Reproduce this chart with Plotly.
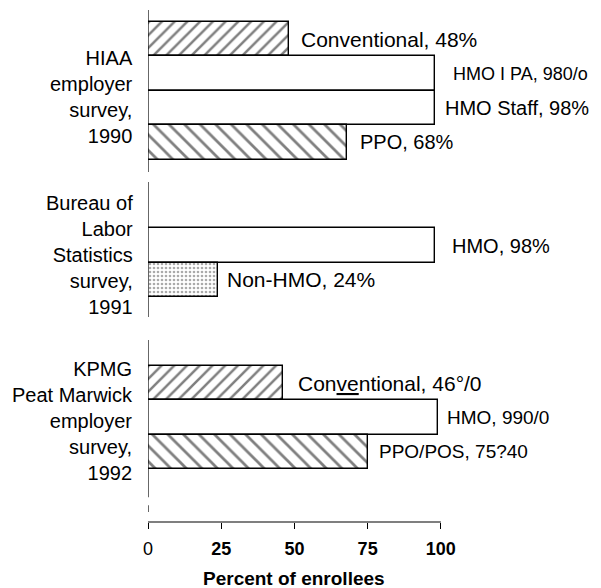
import plotly.graph_objects as go

# ---- data ----
group_labels = [
    "HIAA<br>employer<br>survey,<br>1990",
    "Bureau of<br>Labor<br>Statistics<br>survey,<br>1991",
    "KPMG<br>Peat Marwick<br>employer<br>survey,<br>1992",
]
bar_labels = [
    "Conventional, 48%",
    "HMO I PA, 980/o",
    "HMO Staff, 98%",
    "PPO, 68%",
    "HMO, 98%",
    "Non-HMO, 24%",
    "Con<u>ve</u>ntional, 46°/0",
    "HMO, 990/0",
    "PPO/POS, 75?40",
]
values = [48, 98, 98, 68, 98, 24, 46, 99, 75]
bar_group = [0, 0, 0, 0, 1, 1, 2, 2, 2]
bar_kind = ["conventional", "hmo", "hmo", "ppo", "hmo", "nonhmo",
            "conventional", "hmo", "ppo"]
x_tick_values = [0, 25, 50, 75, 100]
x_tick_text = ["0", "<b>25</b>", "<b>50</b>", "<b>75</b>", "<b>100</b>"]
axis_title = "Percent of enrollees"

# ---- layout helpers (styles / positions) ----
FONT = "Liberation Sans, Arial, Helvetica, sans-serif"
GAP_SLOTS = 2
styles = {
    "conventional": dict(shape="/", size=9, solidity=0.28, fg="black"),
    "ppo": dict(shape="\\", size=11, solidity=0.25, fg="black"),
    "hmo": dict(shape="", size=8, solidity=0.2, fg="black"),
    "nonhmo": dict(shape=".", size=4, solidity=0.35, fg="#555555"),
}
label_dx = [10, 16, 8, 11, 15, 7, 13, 7, 9]
label_size = [21, 18, 20, 20, 20, 21, 21, 19, 19]
group_dy = [-6, 8, -4]

# positions: consecutive slots within a group, empty slots between groups
pos = []
cur = 0
prev = bar_group[0]
for g in bar_group:
    if g != prev:
        cur += GAP_SLOTS
        prev = g
    pos.append(cur)
    cur += 1

fig = go.Figure()
fig.add_trace(go.Bar(
    x=values, y=pos, orientation="h", width=1,
    marker=dict(
        color="white",
        line=dict(color="black", width=1.4),
        pattern=dict(
            shape=[styles[k]["shape"] for k in bar_kind],
            size=[styles[k]["size"] for k in bar_kind],
            solidity=[styles[k]["solidity"] for k in bar_kind],
            fgcolor=[styles[k]["fg"] for k in bar_kind],
            bgcolor="white",
            fillmode="overlay",
        ),
    ),
    hoverinfo="skip", showlegend=False,
))

annotations = []
for i, (v, p, t) in enumerate(zip(values, pos, bar_labels)):
    annotations.append(dict(
        x=v, y=p, xref="x", yref="y", text=t, showarrow=False,
        xanchor="left", yanchor="middle", xshift=label_dx[i],
        font=dict(family=FONT, size=label_size[i], color="black"),
    ))

for gi, lab in enumerate(group_labels):
    ps = [p for p, g in zip(pos, bar_group) if g == gi]
    center = (min(ps) + max(ps)) / 2
    annotations.append(dict(
        x=0, y=center, xref="paper", yref="y", text=lab, showarrow=False,
        xanchor="right", yanchor="middle", align="right", xshift=-13,
        yshift=group_dy[gi],
        font=dict(family=FONT, size=20, color="black"),
    ))

annotations.append(dict(
    x=50, y=0, xref="x", yref="paper", text="<b>" + axis_title + "</b>",
    showarrow=False, xanchor="center", yanchor="middle", yshift=-56,
    font=dict(family=FONT, size=19, color="black"),
))

shapes = [dict(type="line", xref="x", yref="paper", x0=0, x1=100, y0=0, y1=0,
               line=dict(color="black", width=1.2))]
for y0, y1 in [(-0.85, 3.86), (4.15, 8.08), (8.75, 13.32), (13.55, 13.75)]:
    shapes.append(dict(type="line", xref="x", yref="y", x0=0, x1=0, y0=y0, y1=y1,
                       line=dict(color="black", width=1.2)))

fig.update_layout(
    width=593, height=580,
    margin=dict(l=140, r=2, t=2, b=66),
    plot_bgcolor="white", paper_bgcolor="white",
    bargap=0,
    xaxis=dict(range=[0, 154], tickvals=x_tick_values, ticktext=x_tick_text,
               ticks="outside", ticklen=6, tickcolor="black", tickwidth=1,
               ticklabelstandoff=4,
               tickfont=dict(family=FONT, size=18, color="black"),
               showgrid=False, zeroline=False, showline=False, fixedrange=True),
    yaxis=dict(range=[14.04, -0.85], visible=False, fixedrange=True),
    annotations=annotations,
    shapes=shapes,
)

fig.write_html("out.html")
